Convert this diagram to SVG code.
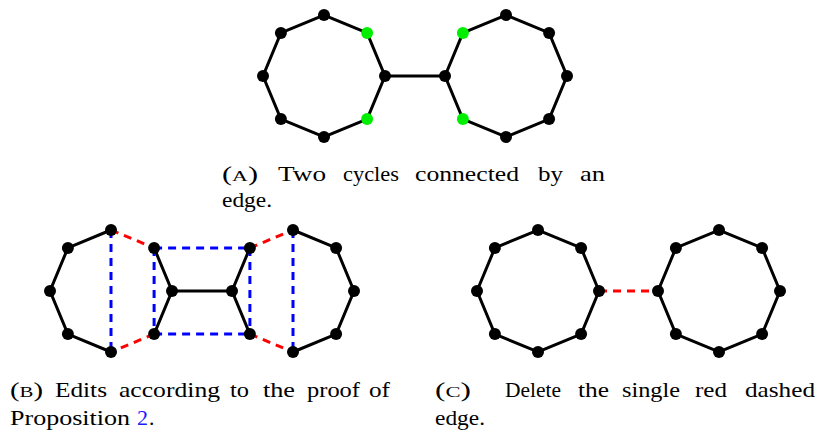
<svg xmlns="http://www.w3.org/2000/svg" width="823" height="432" viewBox="0 0 823 432">
<style>
.e{stroke:#000;stroke-width:3;fill:none;stroke-linecap:round}
.r{stroke:#ff0000;stroke-width:3;fill:none;stroke-dasharray:8 6}
.b{stroke:#0000ff;stroke-width:3;fill:none;stroke-dasharray:8 6}
.n{fill:#000}
.g{fill:#00ee00}
.cap text{font-family:"Liberation Serif","Times New Roman",serif;font-size:21.5px;fill:#000}
.sc{font-size:15.5px}
</style>
<rect width="823" height="432" fill="#fff"/>
<g id="connectors">
<polygon class="e" points="385,76 367.1,32.9 324,15 280.9,32.9 263,76 280.9,119.1 324,137 367.1,119.1"/>
<polygon class="e" points="445,76 462.9,32.9 506,15 549.1,32.9 567,76 549.1,119.1 506,137 462.9,119.1"/>
<line class="e" x1="385" y1="76" x2="445" y2="76"/>
<polyline class="e" points="111,230 67.9,247.9 50,291 67.9,334.1 111,352"/>
<polyline class="e" points="154.1,247.9 172,291 154.1,334.1"/>
<line class="r" x1="111" y1="230" x2="154.1" y2="247.9"/>
<line class="r" x1="154.1" y1="334.1" x2="111" y2="352"/>
<line class="b" x1="111" y1="230" x2="111" y2="352"/>
<polyline class="e" points="293,230 336.1,247.9 354,291 336.1,334.1 293,352"/>
<polyline class="e" points="249.9,247.9 232,291 249.9,334.1"/>
<line class="r" x1="249.9" y1="247.9" x2="293" y2="230"/>
<line class="r" x1="249.9" y1="334.1" x2="293" y2="352"/>
<line class="b" x1="293" y1="230" x2="293" y2="352"/>
<line class="e" x1="172" y1="291" x2="232" y2="291"/>
<line class="b" x1="154.1" y1="247.9" x2="249.9" y2="247.9"/>
<line class="b" x1="154.1" y1="334.1" x2="249.9" y2="334.1"/>
<line class="b" x1="154.1" y1="247.9" x2="154.1" y2="334.1"/>
<line class="b" x1="249.9" y1="247.9" x2="249.9" y2="334.1"/>
<polygon class="e" points="599,291 581.1,247.9 538,230 494.9,247.9 477,291 494.9,334.1 538,352 581.1,334.1"/>
<polygon class="e" points="658,291 675.9,247.9 719,230 762.1,247.9 780,291 762.1,334.1 719,352 675.9,334.1"/>
<line class="r" x1="599" y1="291" x2="658" y2="291"/>
</g>
<g id="a1"><circle class="n" cx="385" cy="76" r="6"/></g>
<g id="a2"><circle class="g" cx="367.1" cy="32.9" r="6"/></g>
<g id="a3"><circle class="n" cx="324" cy="15" r="6"/></g>
<g id="a4"><circle class="n" cx="280.9" cy="32.9" r="6"/></g>
<g id="a5"><circle class="n" cx="263" cy="76" r="6"/></g>
<g id="a6"><circle class="n" cx="280.9" cy="119.1" r="6"/></g>
<g id="a7"><circle class="n" cx="324" cy="137" r="6"/></g>
<g id="a8"><circle class="g" cx="367.1" cy="119.1" r="6"/></g>
<g id="a9"><circle class="n" cx="445" cy="76" r="6"/></g>
<g id="a10"><circle class="g" cx="462.9" cy="32.9" r="6"/></g>
<g id="a11"><circle class="n" cx="506" cy="15" r="6"/></g>
<g id="a12"><circle class="n" cx="549.1" cy="32.9" r="6"/></g>
<g id="a13"><circle class="n" cx="567" cy="76" r="6"/></g>
<g id="a14"><circle class="n" cx="549.1" cy="119.1" r="6"/></g>
<g id="a15"><circle class="n" cx="506" cy="137" r="6"/></g>
<g id="a16"><circle class="g" cx="462.9" cy="119.1" r="6"/></g>
<g id="b1"><circle class="n" cx="172" cy="291" r="6"/></g>
<g id="b2"><circle class="n" cx="154.1" cy="247.9" r="6"/></g>
<g id="b3"><circle class="n" cx="111" cy="230" r="6"/></g>
<g id="b4"><circle class="n" cx="67.9" cy="247.9" r="6"/></g>
<g id="b5"><circle class="n" cx="50" cy="291" r="6"/></g>
<g id="b6"><circle class="n" cx="67.9" cy="334.1" r="6"/></g>
<g id="b7"><circle class="n" cx="111" cy="352" r="6"/></g>
<g id="b8"><circle class="n" cx="154.1" cy="334.1" r="6"/></g>
<g id="b9"><circle class="n" cx="232" cy="291" r="6"/></g>
<g id="b10"><circle class="n" cx="249.9" cy="247.9" r="6"/></g>
<g id="b11"><circle class="n" cx="293" cy="230" r="6"/></g>
<g id="b12"><circle class="n" cx="336.1" cy="247.9" r="6"/></g>
<g id="b13"><circle class="n" cx="354" cy="291" r="6"/></g>
<g id="b14"><circle class="n" cx="336.1" cy="334.1" r="6"/></g>
<g id="b15"><circle class="n" cx="293" cy="352" r="6"/></g>
<g id="b16"><circle class="n" cx="249.9" cy="334.1" r="6"/></g>
<g id="c1"><circle class="n" cx="599" cy="291" r="6"/></g>
<g id="c2"><circle class="n" cx="581.1" cy="247.9" r="6"/></g>
<g id="c3"><circle class="n" cx="538" cy="230" r="6"/></g>
<g id="c4"><circle class="n" cx="494.9" cy="247.9" r="6"/></g>
<g id="c5"><circle class="n" cx="477" cy="291" r="6"/></g>
<g id="c6"><circle class="n" cx="494.9" cy="334.1" r="6"/></g>
<g id="c7"><circle class="n" cx="538" cy="352" r="6"/></g>
<g id="c8"><circle class="n" cx="581.1" cy="334.1" r="6"/></g>
<g id="c9"><circle class="n" cx="658" cy="291" r="6"/></g>
<g id="c10"><circle class="n" cx="675.9" cy="247.9" r="6"/></g>
<g id="c11"><circle class="n" cx="719" cy="230" r="6"/></g>
<g id="c12"><circle class="n" cx="762.1" cy="247.9" r="6"/></g>
<g id="c13"><circle class="n" cx="780" cy="291" r="6"/></g>
<g id="c14"><circle class="n" cx="762.1" cy="334.1" r="6"/></g>
<g id="c15"><circle class="n" cx="719" cy="352" r="6"/></g>
<g id="c16"><circle class="n" cx="675.9" cy="334.1" r="6"/></g>
<g id="caption-a" class="cap">
<text x="222" y="181" textLength="36" lengthAdjust="spacingAndGlyphs">(<tspan class="sc">A</tspan>)</text>
<text x="278" y="181" textLength="48" lengthAdjust="spacingAndGlyphs">Two</text>
<text x="343" y="181" textLength="56" lengthAdjust="spacingAndGlyphs">cycles</text>
<text x="415" y="181" textLength="104" lengthAdjust="spacingAndGlyphs">connected</text>
<text x="538" y="181" textLength="25" lengthAdjust="spacingAndGlyphs">by</text>
<text x="580" y="181" textLength="25" lengthAdjust="spacingAndGlyphs">an</text>
<text x="222" y="207" textLength="50" lengthAdjust="spacingAndGlyphs">edge.</text>
</g>
<g id="caption-b" class="cap">
<text x="10" y="397" textLength="33" lengthAdjust="spacingAndGlyphs">(<tspan class="sc">B</tspan>)</text>
<text x="55" y="397" textLength="52" lengthAdjust="spacingAndGlyphs">Edits</text>
<text x="119" y="397" textLength="101" lengthAdjust="spacingAndGlyphs">according</text>
<text x="230" y="397" textLength="19" lengthAdjust="spacingAndGlyphs">to</text>
<text x="263" y="397" textLength="32" lengthAdjust="spacingAndGlyphs">the</text>
<text x="307" y="397" textLength="53" lengthAdjust="spacingAndGlyphs">proof</text>
<text x="369" y="397" textLength="21" lengthAdjust="spacingAndGlyphs">of</text>
<text x="10" y="425" textLength="120" lengthAdjust="spacingAndGlyphs">Proposition</text>
<text x="137" y="425" textLength="11" lengthAdjust="spacingAndGlyphs" style="fill:#1a1aff">2</text>
<text x="149" y="425">.</text>
</g>
<g id="caption-c" class="cap">
<text x="435" y="397" textLength="36" lengthAdjust="spacingAndGlyphs">(<tspan class="sc">C</tspan>)</text>
<text x="505" y="397" textLength="56" lengthAdjust="spacingAndGlyphs">Delete</text>
<text x="578" y="397" textLength="31" lengthAdjust="spacingAndGlyphs">the</text>
<text x="622" y="397" textLength="58" lengthAdjust="spacingAndGlyphs">single</text>
<text x="695" y="397" textLength="32" lengthAdjust="spacingAndGlyphs">red</text>
<text x="745" y="397" textLength="70" lengthAdjust="spacingAndGlyphs">dashed</text>
<text x="435" y="425" textLength="50" lengthAdjust="spacingAndGlyphs">edge.</text>
</g>
</svg>
